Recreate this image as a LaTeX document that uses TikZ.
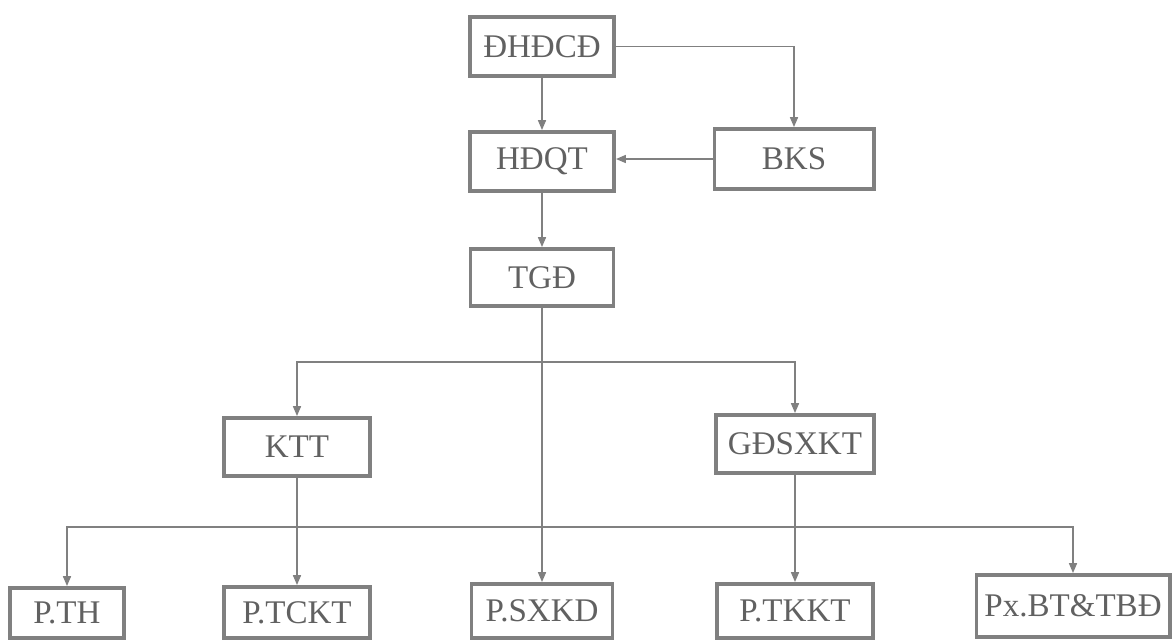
\documentclass[tikz,border=0pt]{standalone}
\usepackage{fontspec}
\setmainfont{Liberation Serif}
\usetikzlibrary{arrows.meta}
\begin{document}
\begin{tikzpicture}[x=0.025cm,y=-0.025cm]
\tikzstyle{every node}+=[inner sep=0pt]
\tikzstyle{unit}=[draw=gray, line width=2.8pt, fill=white, text=black!62, font=\fontsize{23.5}{28}\selectfont]
\tikzstyle{link}=[draw=gray, line width=1pt, -{Triangle[width=5.7pt,length=7pt]}]
\useasboundingbox (0,0) rectangle (1176,641);
\clip (0,0) rectangle (1176,641);
\node [unit, minimum width=3.6cm, minimum height=1.475cm] (dhcd) at (542,46.5) {ĐHĐCĐ};
\node [unit, minimum width=3.6cm, minimum height=1.475cm] (hdqt) at (542,161.5) {HĐQT};
\node [unit, minimum width=3.975cm, minimum height=1.5cm] (bks) at (794,159) {BKS};
\node [unit, minimum width=3.575cm, minimum height=1.425cm] (tgd) at (542,277.5) {TGĐ};
\node [unit, minimum width=3.65cm, minimum height=1.45cm] (ktt) at (297,447) {KTT};
\node [unit, minimum width=3.95cm, minimum height=1.45cm] (gdsx) at (795,444) {GĐSXKT};
\node [unit, minimum width=2.85cm, minimum height=1.25cm] (pth) at (67,613) {P.TH};
\node [unit, minimum width=3.65cm, minimum height=1.275cm] (ptckt) at (297,612.5) {P.TCKT};
\node [unit, minimum width=3.525cm, minimum height=1.35cm] (psxkd) at (542,611) {P.SXKD};
\node [unit, minimum width=3.9cm, minimum height=1.35cm] (ptkkt) at (795,611) {P.TKKT};
\node [unit, minimum width=4.825cm, minimum height=1.55cm] (pbt) at (1073,606) {Px.BT\&TBĐ};
\coordinate (mid) at (542,362);
\coordinate (bus) at (542,527);
\draw [link] (dhcd.east) -| (bks.north);
\draw [link] (dhcd) -- (hdqt);
\draw [link] (bks.west) -- (bks.west -| hdqt.east);
\draw [link] (hdqt) -- (tgd);
\draw [link] (tgd) -- (psxkd);
\draw [link] (mid) -| (ktt);
\draw [link] (mid) -| (gdsx);
\draw [link] (ktt) -- (ptckt);
\draw [link] (gdsx) -- (ptkkt);
\draw [link] (bus) -| (pth);
\draw [link] (bus) -| (pbt);
\end{tikzpicture}
\end{document}
